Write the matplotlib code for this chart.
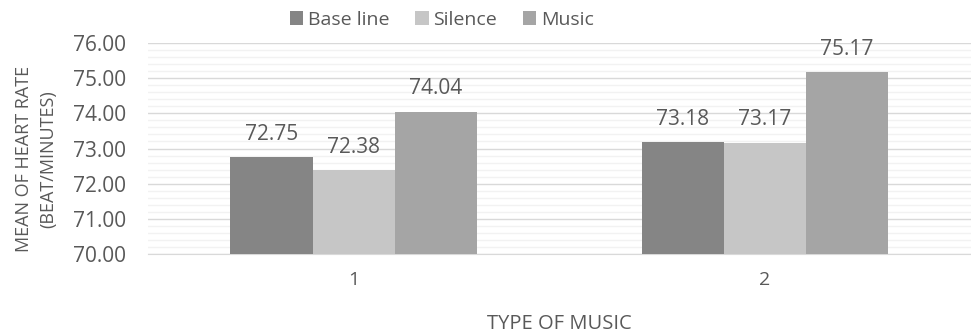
import numpy as np
from matplotlib import pyplot as plt
from matplotlib.ticker import MultipleLocator

plt.rcParams['font.family'] = ['Open Sans', 'DejaVu Sans']

categories = ['1', '2']
series_names = ['Base line', 'Silence', 'Music']
base_line = [72.75, 73.18]
silence = [72.38, 73.17]
music = [74.04, 75.17]

colors = ['#858585', '#c6c6c6', '#a5a5a5']
text_color = '#595959'

fig = plt.figure(figsize=(9.71, 3.33), dpi=100)
ax = fig.add_axes([0.1525, 0.237, 0.847, 0.634])

x = np.arange(1, len(categories) + 1)
width = 0.2
ymin = 70.0
for i, (name, vals, col) in enumerate(zip(series_names, [base_line, silence, music], colors)):
    pos = x + (i - 1) * width
    ax.bar(pos, np.array(vals) - ymin, width, bottom=ymin, color=col,
           label=name, zorder=3)
    for p, v in zip(pos, vals):
        ax.annotate(f'{v:.2f}', (p, v), xytext=(0, 9), textcoords='offset points',
                    ha='center', va='bottom', fontsize=15, color=text_color)

ax.set_xlim(0.5, 2.5)
ax.set_ylim(70, 76)
ax.set_xticks(x)
ax.set_xticklabels(categories)
ax.yaxis.set_major_locator(MultipleLocator(1))
ax.yaxis.set_minor_locator(MultipleLocator(0.2))
ax.yaxis.set_major_formatter(lambda v, _: f'{v:.2f}')
ax.grid(axis='y', which='major', color='#d9d9d9', linewidth=1, zorder=0)
ax.grid(axis='y', which='minor', color='#f2f2f2', linewidth=1, zorder=0)
for s in ['top', 'right', 'left']:
    ax.spines[s].set_visible(False)
ax.spines['bottom'].set_color('#d9d9d9')
ax.tick_params(axis='both', which='both', length=0, colors=text_color)
ax.tick_params(axis='x', pad=12, labelsize=14)
ax.tick_params(axis='y', pad=16, labelsize=15)

ax.set_xlabel('TYPE OF MUSIC', fontsize=14.5, color=text_color)
ax.xaxis.set_label_coords(0.5, -0.285)
ax.set_ylabel('MEAN OF HEART RATE\n(BEAT/MINUTES)', fontsize=13, color=text_color,
              linespacing=1.45)
ax.yaxis.set_label_coords(-0.11, 0.45)

fig.legend(loc='upper center', bbox_to_anchor=(0.455, 1.02), ncol=3, frameon=False,
           fontsize=14, labelcolor=text_color, handlelength=0.7, handleheight=0.7,
           handletextpad=0.25, columnspacing=1.3)

fig.savefig('out.png', dpi=100)
